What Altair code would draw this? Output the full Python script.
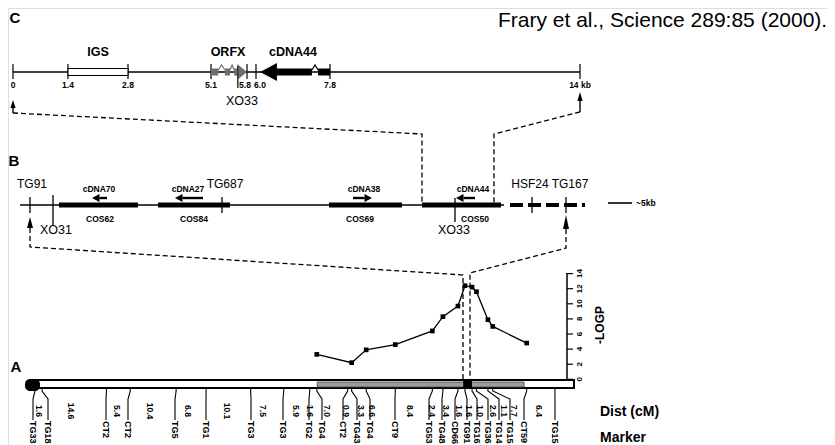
import altair as alt
import pandas as pd
import numpy as np

# ---------------- data ----------------
# Panel C (kb)
kb_ticks = [0, 1.4, 2.8, 5.1, 5.8, 6.0, 7.8, 14]
kb_labels = ["0", "1.4", "2.8", "5.1", "5.8", "6.0", "7.8", "14 kb"]
igs_kb = (1.4, 2.8)
orfx_exons_kb = [(5.10, 5.24), (5.37, 5.47), (5.55, 5.61)]
orfx_introns_kb = [(5.24, 5.37), (5.47, 5.55)]
orfx_head_kb = (5.61, 5.80)
cdna44_exons_kb = [(6.51, 7.36), (7.51, 7.80)]
cdna44_introns_kb = [(7.36, 7.51)]
cdna44_head_kb = (6.10, 6.51)
xo33_kb = 5.62

# Panel B
cosmids = ["COS62", "COS84", "COS69", "COS50"]
cdnas = ["cDNA70", "cDNA27", "cDNA38", "cDNA44"]
cdna_dir = [-1, -1, 1, -1]
b_markers = ["TG91", "TG687", "HSF24", "TG167"]

# Panel A (cM)
markers = ["TG33", "TG18", "CT2", "CT2", "TG5", "TG1", "TG3", "TG3", "TG2", "TG4",
           "CT2", "TG43", "TG4", "CT9", "TG53", "TG48", "CD66", "TG91", "TG16",
           "TG36", "TG14", "TG15", "CT59", "TG15"]
dist_cm = [1.6, 14.6, 5.4, 10.4, 6.8, 10.1, 7.5, 5.9, 1.6, 7.0, 0.9, 3.3, 6.6,
           8.4, 2.4, 3.4, 1.6, 1.6, 1.0, 2.6, 1.1, 7.7, 6.4]
lod_markers = [9, 11, 12, 13, 14, 15, 16, 17, 18, 19, 20, 21, 22]
lod_values = [3.3, 2.2, 3.9, 4.6, 6.4, 8.3, 9.7, 12.4, 12.2, 11.6, 7.9, 7.0, 4.8]
lod_ticks = [0, 2, 4, 6, 8, 10, 12, 14]
qtl_cm = (64.0, 110.9)
fw22_cm = (97.1, 99.1)

# ---------------- layout ----------------
W, H = 819, 437
X0, Y0 = 8, 8
FONT = "Liberation Sans"
XS = alt.Scale(domain=[X0, X0 + W], nice=False, zero=False)
YS = alt.Scale(domain=[Y0, Y0 + H], reverse=True, nice=False, zero=False)
XE = alt.X("x:Q", scale=XS, axis=None)
YE = alt.Y("y:Q", scale=YS, axis=None)

c_px = [13, 68, 128, 211, 247, 256, 330, 580]
def ckb(v):
    return float(np.interp(v, kb_ticks, c_px))
C_Y = 72

def cm_px(v):
    return 35 + 4.41 * v
def lod_py(v):
    return 379.3 - 7.55 * v

b_y = 205
cos_px = [(59, 138), (158, 230), (329, 402), (422, 501)]
cdna_px = [(107, 92), (203, 175), (353, 372), (475, 456)]
cdna_lbl_x = [99, 188, 364, 473]
cos_lbl_x = [100, 194, 360, 475]
b_marker_px = [30, 222, 532, 566]
b_marker_lbl_x = [32, 225, 530, 570]

label_x = [33, 48, 106, 128, 175, 206, 251, 283, 309, 322, 343, 357, 370, 395,
           429, 442, 455, 467, 477, 488, 499, 510, 524, 555]
dist_x = [39, 71, 117, 150, 188, 227, 263, 296, 310, 327, 346, 361, 372, 410,
          432, 446, 459, 469, 480, 493, 504, 514, 539]

# ---------------- helpers ----------------
layers = []

def segs(rows, color="black", width=1.3, dash=None):
    df = pd.DataFrame(rows, columns=["x", "y", "x2", "y2"])
    mk = dict(color=color, strokeWidth=width)
    if dash:
        mk["strokeDash"] = dash
    layers.append(alt.Chart(df).mark_rule(**mk).encode(x=XE, y=YE, x2="x2:Q", y2="y2:Q"))

def polys(paths, color="black", width=1.2, dash=None):
    rows = []
    for i, p in enumerate(paths):
        for j, (x, y) in enumerate(p):
            rows.append(dict(id=i, o=j, x=x, y=y))
    mk = dict(color=color, strokeWidth=width)
    if dash:
        mk["strokeDash"] = dash
    layers.append(alt.Chart(pd.DataFrame(rows)).mark_line(**mk).encode(
        x=XE, y=YE, detail="id:N", order="o:Q"))

def rects(rows, fill="black", stroke=None, sw=0, radius=0):
    df = pd.DataFrame(rows, columns=["x", "x2", "y", "y2"])
    mk = dict(fill=fill, strokeWidth=sw)
    if stroke:
        mk["stroke"] = stroke
    if radius:
        mk["cornerRadius"] = radius
    layers.append(alt.Chart(df).mark_rect(**mk).encode(x=XE, x2="x2:Q", y=YE, y2="y2:Q"))

def htri(rows, color="black"):
    # horizontal-pointing triangles: (tip_x, base_x, yc, half_height)
    d = []
    for i, (tip, base, yc, hh) in enumerate(rows):
        d.append(dict(id=i, x=tip, y=yc, y2=yc))
        d.append(dict(id=i, x=base, y=yc - hh, y2=yc + hh))
    layers.append(alt.Chart(pd.DataFrame(d)).mark_area(orient="vertical", color=color).encode(
        x=XE, y=YE, y2="y2:Q", detail="id:N"))

def vtri(rows, color="black"):
    # upward triangles: (xc, tip_y, base_y, half_width)
    d = []
    for i, (xc, tip, base, hw) in enumerate(rows):
        d.append(dict(id=i, y=tip, x=xc, x2=xc))
        d.append(dict(id=i, y=base, x=xc - hw, x2=xc + hw))
    layers.append(alt.Chart(pd.DataFrame(d)).mark_area(orient="horizontal", color=color).encode(
        y=YE, x=XE, x2="x2:Q", detail="id:N"))

def texts(rows, size, weight="normal", align="center", baseline="middle", angle=0, color="black"):
    df = pd.DataFrame(rows, columns=["x", "y", "t"])
    layers.append(alt.Chart(df).mark_text(
        font=FONT, fontSize=size, fontWeight=weight, align=align, baseline=baseline,
        angle=angle, color=color).encode(x=XE, y=YE, text="t:N"))

# ---------------- Panel C ----------------
segs([(ckb(0), C_Y, ckb(14), C_Y)], width=1.5)
segs([(ckb(k), 64, ckb(k), 79) for k in kb_ticks], width=1.2)
rects([(ckb(igs_kb[0]), ckb(igs_kb[1]), 68.5, 75.5)], fill="white", stroke="black", sw=1.1)
GREY = "#6f6f6f"
rects([(ckb(a), ckb(b), 68.5, 75.5) for a, b in orfx_exons_kb], fill=GREY)
polys([[(ckb(a), 70), ((ckb(a) + ckb(b)) / 2, 65), (ckb(b), 70)] for a, b in orfx_introns_kb],
      color=GREY, width=1.2)
htri([(ckb(orfx_head_kb[1]), ckb(orfx_head_kb[0]), C_Y, 8)], color=GREY)
rects([(ckb(a), ckb(b), 68.5, 75.5) for a, b in cdna44_exons_kb], fill="black")
polys([[(ckb(a), 70), ((ckb(a) + ckb(b)) / 2, 65), (ckb(b), 70)] for a, b in cdna44_introns_kb],
      color="black", width=1.2)
htri([(ckb(cdna44_head_kb[0]), ckb(cdna44_head_kb[1]), C_Y, 9)])
segs([(ckb(xo33_kb), 66, ckb(xo33_kb), 88)], color="#3a3a3a", width=1.6)

texts([(15, 18, "C")], 15, "bold")
texts([(498, 21, "Frary et al., Science 289:85 (2000).")], 21, align="left")
texts([((ckb(igs_kb[0]) + ckb(igs_kb[1])) / 2, 52, "IGS"),
       (228, 52, "ORFX"), (293, 52, "cDNA44")], 12.5, "bold")
lbl_dx = [0, 0, 0, 0, -2, 4, 0, 0]
texts([(ckb(k) + dx, 84.5, t) for k, t, dx in zip(kb_ticks, kb_labels, lbl_dx)], 8.5, "bold")
texts([(242, 101, "XO33")], 12.5)

# arrows at 0 and 14 kb and dashed connectors C -> B
vtri([(ckb(0), 100, 108, 2.6), (ckb(14), 92, 101, 2.6)])
segs([(ckb(0), 107, ckb(0), 113), (ckb(14), 100, ckb(14), 112)], width=1.4)
polys([[(ckb(0), 113), (cos_px[3][0], 134), (cos_px[3][0], b_y)],
       [(ckb(14), 112), (494, 134), (494, b_y)]], width=1.3, dash=[5, 3])

# ---------------- Panel B ----------------
segs([(20, b_y, 504, b_y)], width=1.5)
segs([(a, b_y, b, b_y) for a, b in cos_px], width=4.8)
segs([(510, b_y, 585, b_y)], width=4, dash=[13, 5])
segs([(x, 197, x, 213) for x in b_marker_px], width=1.3)
segs([(53, 195, 53, 225), (455, 198, 455, 222)], width=1.3)
segs([(608, 203, 632, 203)], width=1.6)
texts([(636, 203, "~5kb")], 8.5, "bold", align="left")

# cDNA arrows
shafts, heads = [], []
for (tail, tip), d in zip(cdna_px, cdna_dir):
    base = tip - d * 7.5
    yy = 198
    shafts.append((tail, yy, base, yy))
    heads.append((tip, base, yy, 4))
segs(shafts, width=2.4)
htri(heads)

texts([(x, 189, t) for x, t in zip(cdna_lbl_x, cdnas)], 8.5, "bold")
texts([(x, 219, t) for x, t in zip(cos_lbl_x, cosmids)], 8.5, "bold")
texts([(x, 184, t) for x, t in zip(b_marker_lbl_x, b_markers)], 12)
texts([(56, 230, "XO31"), (454, 230, "XO33")], 12.5)
texts([(14, 161, "B")], 15, "bold")

# up arrows in B and dashed connectors B -> A
vtri([(30, 217, 228, 3), (566, 215, 229, 3)])
polys([[(30, 228), (30, 247), (463, 275), (463, 381)],
       [(566, 229), (566, 248), (470, 273), (470, 381)]], width=1.3, dash=[5, 3])

# ---------------- Panel A ----------------
cum = np.concatenate([[0.0], np.cumsum(dist_cm)])
bar_l, bar_r = 33, 574
segs([(bar_l, 380, bar_r, 380), (bar_l, 388, bar_r, 388)], width=2)
segs([(bar_r, 379, bar_r, 389)], width=2)
rects([(cm_px(qtl_cm[0]), cm_px(qtl_cm[1]), 382, 387)], fill="#9c9c9c", stroke="#444444", sw=0.8)
rects([(cm_px(fw22_cm[0]), cm_px(fw22_cm[1]), 381, 388)], fill="black")
rects([(25, 40, 379, 391)], fill="black", radius=5)
texts([(16, 367, "A")], 15, "bold")

# LOD axis
segs([(567, 273, 567, 381)], width=1.5)
segs([(567, lod_py(v), 573, lod_py(v)) for v in lod_ticks], width=1.2)
texts([(580, lod_py(v), str(v)) for v in lod_ticks], 8, "bold", angle=270)
texts([(600, 325, "-LOGP")], 12, "bold", angle=270)

# LOD curve
lod_df = pd.DataFrame({"x": [cm_px(cum[i]) for i in lod_markers],
                       "y": [lod_py(v) for v in lod_values]})
layers.append(alt.Chart(lod_df).mark_line(color="black", strokeWidth=1.3).encode(x=XE, y=YE))
layers.append(alt.Chart(lod_df).mark_point(shape="square", filled=True, color="black",
                                           size=22, opacity=1).encode(x=XE, y=YE))

# leader lines
leaders = []
for c, lx in zip(cum, label_x):
    bx = cm_px(c)
    leaders.append([(bx, 389), (bx, 391), (lx, 399), (lx, 420)])
polys(leaders, width=1.1)

texts([(x, 411, f"{d:.1f}") for x, d in zip(dist_x, dist_cm)], 8.5, "bold", angle=90)
texts([(x, 421, m) for x, m in zip(label_x, markers)], 9, "bold", align="left", angle=90)
texts([(600, 412, "Dist (cM)"), (600, 438, "Marker")], 14, "bold", align="left")

chart = alt.layer(*layers).properties(
    width=W, height=H, padding=0, autosize=alt.AutoSizeParams(type="none")
).configure_view(stroke=None).configure(background="white")

chart.save("out.html", embed_options={"renderer": "svg", "actions": False})
